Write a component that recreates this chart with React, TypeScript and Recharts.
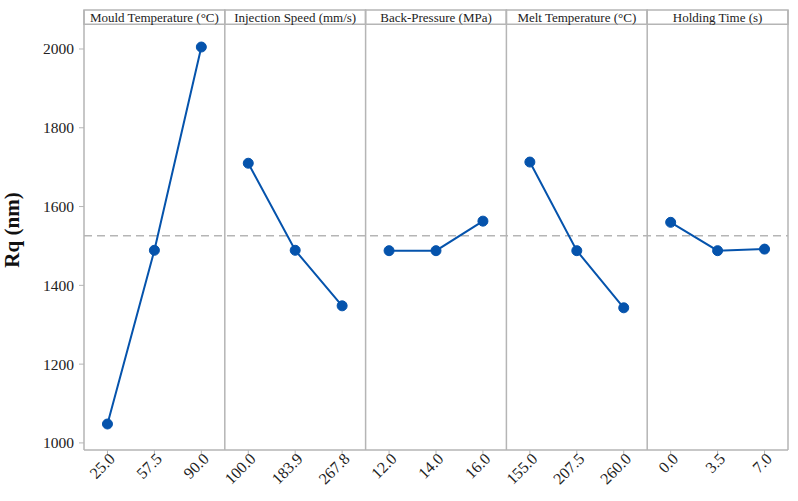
import React from 'react';
import { LineChart, Line, XAxis, YAxis, ReferenceLine, ReferenceArea } from 'recharts';

const panelTitles = [
  'Mould Temperature (°C)',
  'Injection Speed (mm/s)',
  'Back-Pressure (MPa)',
  'Melt Temperature (°C)',
  'Holding Time (s)',
];
const levelLabels = [
  ['25.0', '57.5', '90.0'],
  ['100.0', '183.9', '267.8'],
  ['12.0', '14.0', '16.0'],
  ['155.0', '207.5', '260.0'],
  ['0.0', '3.5', '7.0'],
];
const mouldTemp = [1048, 1489, 2005];
const injectionSpeed = [1710, 1489, 1348];
const backPressure = [1488, 1488, 1563];
const meltTemp = [1713, 1488, 1343];
const holdingTime = [1560, 1488, 1492];
const seriesValues = [mouldTemp, injectionSpeed, backPressure, meltTemp, holdingTime];
const grandMean = 1526;
const yTicks = [1000, 1200, 1400, 1600, 1800, 2000];
const yDomain = [982, 2099];
const headerBottom = 2063;

const data: any[] = [];
levelLabels.forEach((labels, p) => {
  labels.forEach((lab, i) => {
    const row: any = { label: lab, panelPos: p + (i + 0.5) / 3 };
    seriesValues.forEach((_, q) => {
      row['p' + q] = q === p ? seriesValues[p][i] : null;
    });
    data.push(row);
  });
});

const FONT = '"Liberation Serif", "DejaVu Serif", serif';
const GRAY = '#b5b5b5';
const BLUE = '#0553ac';

const XTick = (props: any) => {
  const { x, y, payload } = props;
  return (
    <text
      x={x}
      y={y}
      transform={`rotate(-45, ${x}, ${y})`}
      textAnchor="end"
      dy={8}
      dx={4}
      fontSize={16}
      fontFamily={FONT}
      fill="#222"
    >
      {payload.value}
    </text>
  );
};

export default function App() {
  return (
    <div style={{ position: 'absolute', left: 0, top: 0 }}>
      <LineChart
        width={798}
        height={501}
        data={data}
        margin={{ top: 10, right: 10, bottom: 0, left: 0 }}
      >
        <XAxis
          dataKey="label"
          type="category"
          scale="band"
          interval={0}
          tick={<XTick />}
          tickSize={5}
          stroke={GRAY}
          tickLine={{ stroke: GRAY }}
          axisLine={{ stroke: GRAY, strokeWidth: 1.5 }}
          height={51}
        />
        <XAxis xAxisId="panel" dataKey="panelPos" type="number" domain={[0, 5]} allowDataOverflow hide />
        <YAxis
          type="number"
          domain={yDomain}
          ticks={yTicks}
          width={84}
          tickSize={5}
          tickMargin={5}
          stroke={GRAY}
          axisLine={{ stroke: GRAY, strokeWidth: 1.5 }}
          tick={{ fontSize: 15.5, fontFamily: FONT, fill: '#222' }}
          label={{
            value: 'Rq (nm)',
            angle: -90,
            position: 'insideLeft',
            offset: 12,
            style: { textAnchor: 'middle', fontSize: 21, fontWeight: 'bold', fontFamily: FONT, fill: '#111' },
          }}
        />
        <ReferenceLine y={grandMean} stroke={GRAY} strokeWidth={1.5} strokeDasharray="8 5" />
        {[1, 2, 3, 4, 5].map((v) => (
          <ReferenceLine key={v} xAxisId="panel" x={v} stroke={GRAY} strokeWidth={1.5} />
        ))}
        {panelTitles.map((t, i) => (
          <ReferenceArea
            key={t}
            xAxisId="panel"
            x1={i}
            x2={i + 1}
            y1={headerBottom}
            y2={yDomain[1]}
            fill="#fff"
            fillOpacity={1}
            stroke={GRAY}
            strokeWidth={1.5}
            label={{ value: t, position: 'center', fontSize: 13, fontFamily: FONT, fill: '#222' }}
          />
        ))}
        {seriesValues.map((_, q) => (
          <Line
            key={q}
            dataKey={'p' + q}
            stroke={BLUE}
            strokeWidth={2}
            dot={{ r: 5, fill: BLUE, stroke: BLUE, strokeWidth: 1 }}
            isAnimationActive={false}
            connectNulls={false}
          />
        ))}
      </LineChart>
    </div>
  );
}
